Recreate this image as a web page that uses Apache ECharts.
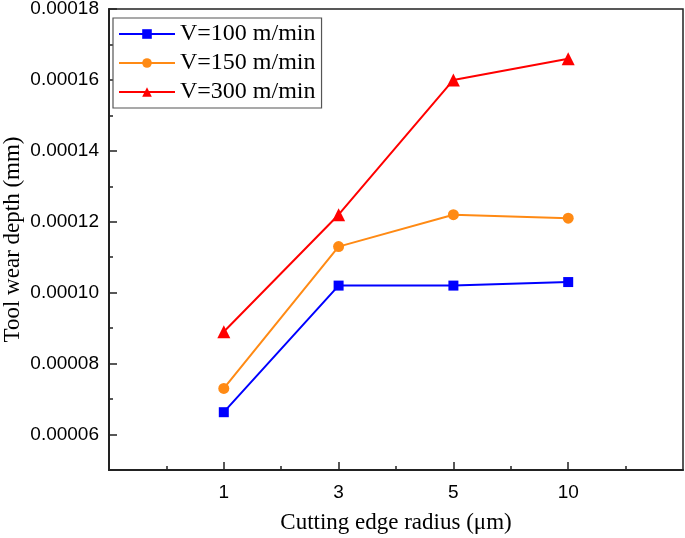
<!DOCTYPE html>
<html><head><meta charset="utf-8">
<script src="https://cdn.jsdelivr.net/npm/echarts@6/dist/echarts.min.js"></script>
<style>html,body{margin:0;padding:0;background:#fff}#c{width:685px;height:538px}</style>
</head><body><div id="c"></div>
<script>
const categories = ['1', '3', '5', '10'];
const v100 = [0.0000663, 0.000102, 0.000102, 0.000103];
const v150 = [0.000073, 0.000113, 0.000122, 0.000121];
const v300 = [0.000089, 0.000122, 0.000160, 0.000166];
const yTickValues = [0.00006, 0.00008, 0.00010, 0.00012, 0.00014, 0.00016, 0.00018];
const yTickLabels = ['0.00006', '0.00008', '0.00010', '0.00012', '0.00014', '0.00016', '0.00018'];
const yMinorTicks = [0.00005, 0.00007, 0.00009, 0.00011, 0.00013, 0.00015, 0.00017];

const pos = categories.map((c, i) => i + 1);
const xMinorTicks = [0.5, 1.5, 2.5, 3.5, 4.5];
const toData = arr => arr.map((v, i) => [pos[i], v]);

const chart = echarts.init(document.getElementById('c'), null, {renderer: 'canvas'});
const serif = '"Liberation Serif","Times New Roman",serif';
const sans = '"Liberation Sans",Arial,sans-serif';

chart.setOption({
  animation: false,
  backgroundColor: '#fff',
  grid: {left: 109, right: 2, top: 9, bottom: 68, containLabel: false, outerBoundsMode: 'none',
    show: true, borderColor: '#222', borderWidth: 1.5, backgroundColor: 'transparent'},
  legend: {
    left: 113, top: 18, orient: 'vertical',
    padding: [4, 6, 4, 5],
    itemGap: 5, itemWidth: 56, itemHeight: 12,
    borderColor: '#555', borderWidth: 1.2, backgroundColor: '#fff',
    textStyle: {fontFamily: serif, fontSize: 24, color: '#000'},
    data: ['V=100 m/min', 'V=150 m/min', 'V=300 m/min']
  },
  xAxis: [{
    type: 'value', min: 0, max: 5, offset: 0,
    name: 'Cutting edge radius (μm)', nameLocation: 'middle', nameGap: 41,
    nameTextStyle: {fontFamily: serif, fontSize: 23, color: '#000'},
    axisLine: {lineStyle: {color: '#222', width: 2}},
    axisTick: {inside: true, length: 4, customValues: xMinorTicks, lineStyle: {color: '#222', width: 1.5}},
    splitLine: {show: false},
    axisLabel: {show: false}
  }, {
    type: 'value', min: 0, max: 5, position: 'bottom', offset: 0,
    axisLine: {show: false}, splitLine: {show: false},
    axisTick: {inside: true, length: 8, customValues: pos, lineStyle: {color: '#222', width: 1.5}},
    axisLabel: {
      customValues: pos, fontFamily: sans, fontSize: 19, color: '#000', margin: 13,
      formatter: v => categories[Math.round(v) - 1]
    }
  }],
  yAxis: [{
    type: 'value', min: 0.00005, max: 0.00018, offset: 0,
    name: 'Tool wear depth (mm)', nameLocation: 'middle', nameGap: 85,
    nameTextStyle: {fontFamily: serif, fontSize: 23, color: '#000'},
    axisLine: {show: true, lineStyle: {color: '#222', width: 2}},
    axisTick: {inside: true, length: 4, customValues: yMinorTicks, lineStyle: {color: '#222', width: 1.5}},
    splitLine: {show: false},
    axisLabel: {show: false}
  }, {
    type: 'value', min: 0.00005, max: 0.00018, position: 'left', offset: 0,
    axisLine: {show: false}, splitLine: {show: false},
    axisTick: {inside: true, length: 8, customValues: yTickValues, lineStyle: {color: '#222', width: 1.5}},
    axisLabel: {
      customValues: yTickValues, fontFamily: sans, fontSize: 19, color: '#000', margin: 10,
      formatter: v => { const i = yTickValues.findIndex(t => Math.abs(t - v) < 1e-9); return i >= 0 ? yTickLabels[i] : ''; }
    }
  }],
  series: [
    {name: 'V=100 m/min', type: 'line', data: toData(v100), symbol: 'rect', symbolSize: 10,
      itemStyle: {color: '#0000FF'}, lineStyle: {color: '#0000FF', width: 2}},
    {name: 'V=150 m/min', type: 'line', data: toData(v150), symbol: 'circle', symbolSize: 11,
      itemStyle: {color: '#FF8A14'}, lineStyle: {color: '#FF8A14', width: 2}},
    {name: 'V=300 m/min', type: 'line', data: toData(v300), symbol: 'triangle', symbolSize: 13,
      itemStyle: {color: '#FF0000'}, lineStyle: {color: '#FF0000', width: 2}}
  ]
});
</script>
</body></html>
